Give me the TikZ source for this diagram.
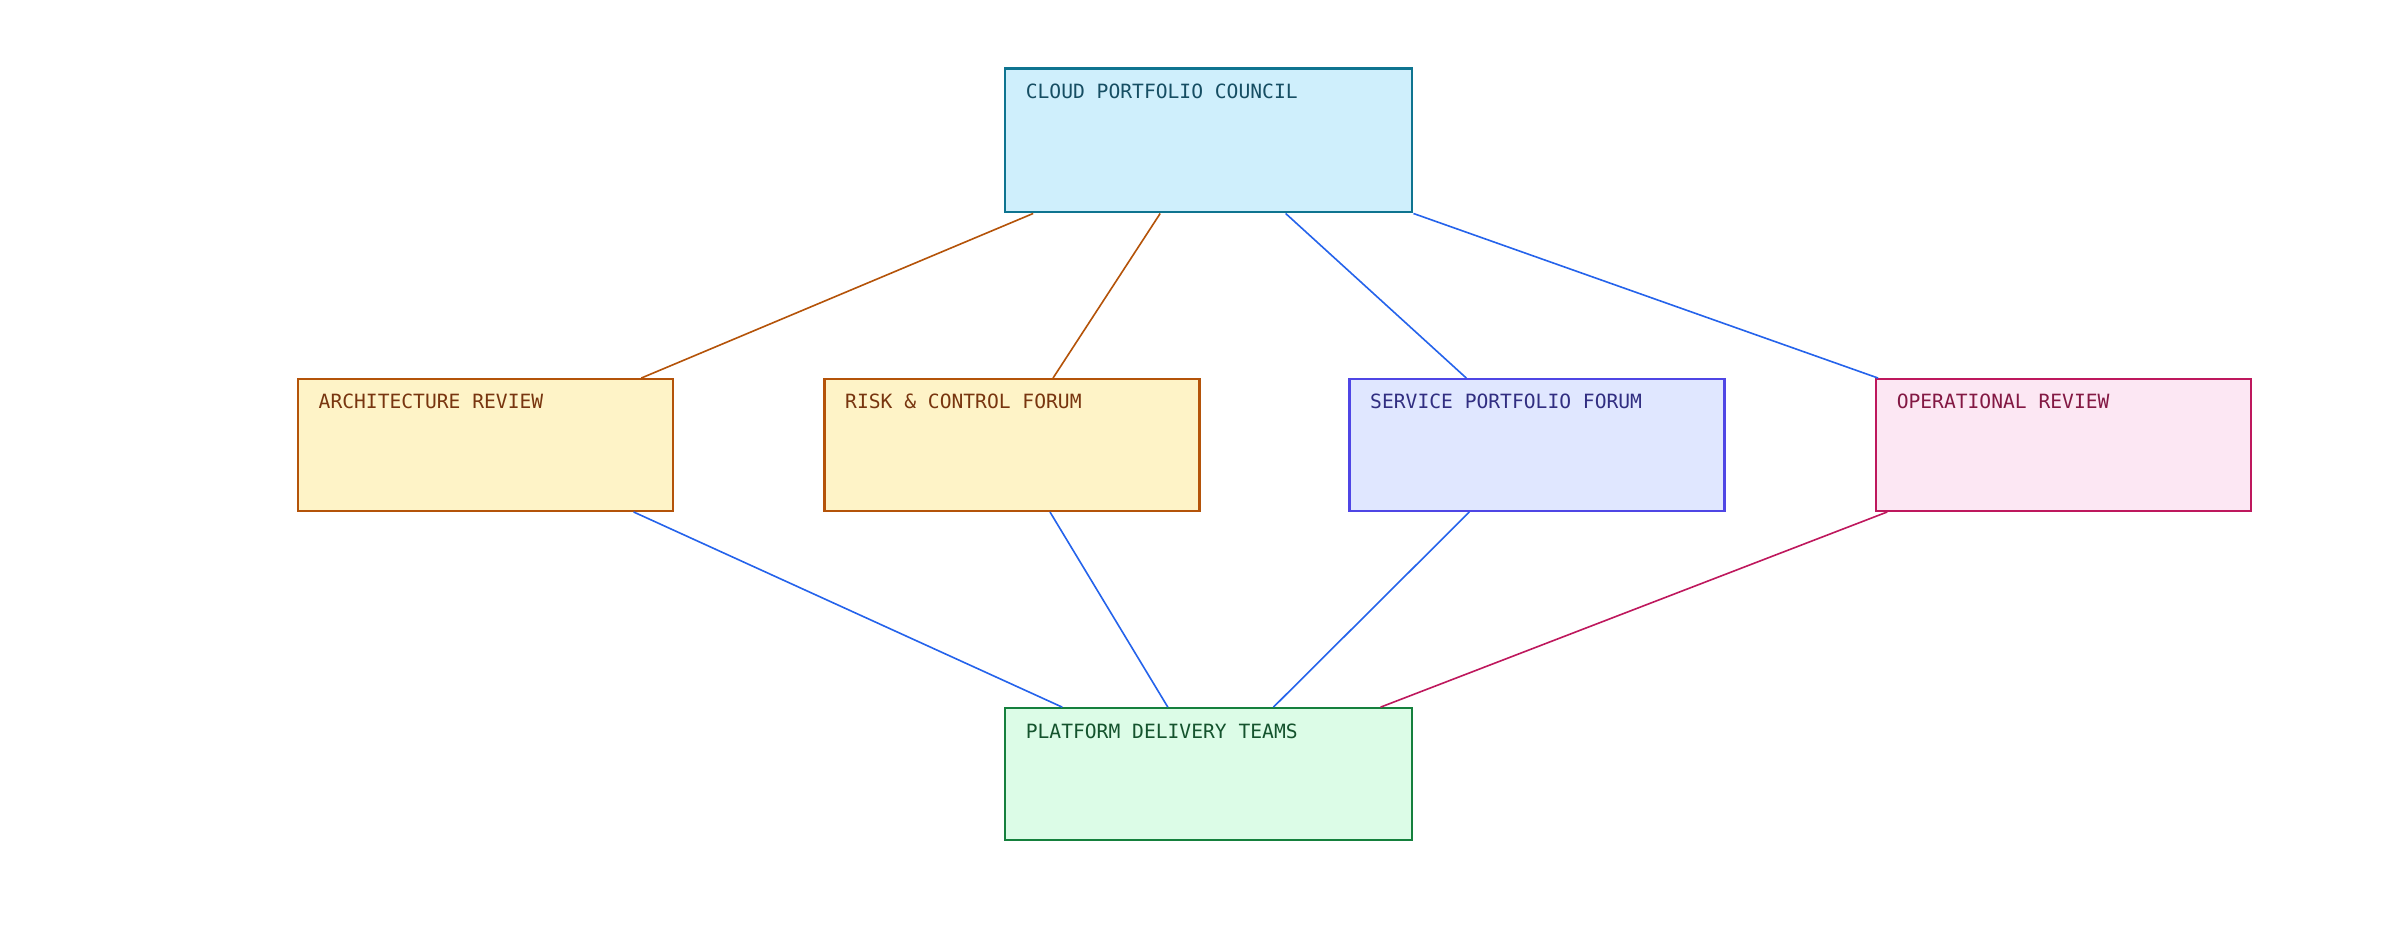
\documentclass[tikz,border=0pt]{standalone}
\usepackage{fontspec}
\setmonofont{DejaVu Sans Mono}
\begin{document}
\begin{tikzpicture}[x=0.02cm,y=-0.02cm,
 box/.style={draw=#1, line width=0.85pt, rectangle, anchor=north west, inner sep=0, minimum height=1.72cm, minimum width=4.9cm},
 lbl/.style={font=\ttfamily\fontsize{7.3}{8}\selectfont, text=#1},
 ln/.style={draw=#1, line width=0.6pt}]
\definecolor{tealB}{HTML}{0E7490}\definecolor{tealT}{HTML}{164E63}
\definecolor{amB}{HTML}{B45309}\definecolor{amT}{HTML}{78350F}
\definecolor{inB}{HTML}{4F46E5}\definecolor{inT}{HTML}{312E81}
\definecolor{pkB}{HTML}{BE185D}\definecolor{pkT}{HTML}{831843}
\definecolor{grB}{HTML}{15803D}\definecolor{grT}{HTML}{14532D}
\definecolor{blL}{HTML}{2563EB}
\useasboundingbox (0,0) rectangle (1568,612);
\node[box=tealB, fill=cyan!19, minimum width=5.32cm, minimum height=1.88cm] (c) at (656,44) {};
\node[box=amB, fill=yellow!20!orange!5!white, fill={rgb,255:red,254;green,243;blue,199}] (a) at (194,247) {};
\node[box=amB, fill={rgb,255:red,254;green,243;blue,199}] (r) at (538,247) {};
\node[box=inB, fill={rgb,255:red,224;green,231;blue,255}] (s) at (881,247) {};
\node[box=pkB, fill={rgb,255:red,252;green,231;blue,243}] (o) at (1225,247) {};
\node[box=grB, fill={rgb,255:red,220;green,252;blue,231}, minimum width=5.32cm] (p) at (656,462) {};
\node[lbl=tealT, anchor=west] at ([xshift=0.16cm,yshift=-0.31cm]c.north west) {CLOUD PORTFOLIO COUNCIL};
\node[lbl=amT, anchor=west] at ([xshift=0.16cm,yshift=-0.31cm]a.north west) {ARCHITECTURE REVIEW};
\node[lbl=amT, anchor=west] at ([xshift=0.16cm,yshift=-0.31cm]r.north west) {RISK \& CONTROL FORUM};
\node[lbl=inT, anchor=west] at ([xshift=0.16cm,yshift=-0.31cm]s.north west) {SERVICE PORTFOLIO FORUM};
\node[lbl=pkT, anchor=west] at ([xshift=0.16cm,yshift=-0.31cm]o.north west) {OPERATIONAL REVIEW};
\node[lbl=grT, anchor=west] at ([xshift=0.16cm,yshift=-0.31cm]p.north west) {PLATFORM DELIVERY TEAMS};
\draw[ln=amB] ([xshift=0.38cm]c.south west) -- ([xshift=4.5cm]a.north west);
\draw[ln=amB] ([xshift=2.04cm]c.south west) -- ([xshift=3.0cm]r.north west);
\draw[ln=blL] ([xshift=3.68cm]c.south west) -- ([xshift=1.54cm]s.north west);
\draw[ln=blL] (c.south east) -- ([xshift=0.04cm]o.north west);
\draw[ln=blL] ([xshift=4.4cm]a.south west) -- ([xshift=0.76cm]p.north west);
\draw[ln=blL] ([xshift=2.96cm]r.south west) -- ([xshift=2.14cm]p.north west);
\draw[ln=blL] ([xshift=1.58cm]s.south west) -- ([xshift=3.52cm]p.north west);
\draw[ln=pkB] ([xshift=0.16cm]o.south west) -- ([xshift=4.92cm]p.north west);
\end{tikzpicture}
\end{document}
